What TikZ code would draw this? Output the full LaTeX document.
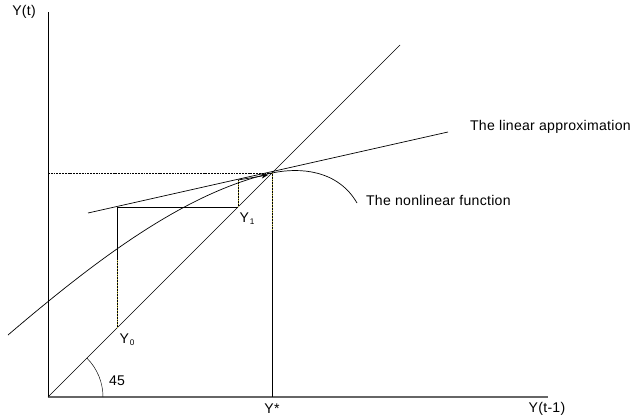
\documentclass[tikz,border=0pt]{standalone}
\usepackage{fontspec}
\setmainfont{Liberation Sans}[LetterSpace=2]
\usetikzlibrary{arrows.meta,positioning}
\newcommand{\ysub}[1]{Y\kern0.8pt\raisebox{-0.3ex}{\scriptsize #1}}

\begin{document}
\begin{tikzpicture}[x=0.03cm,y=-0.03cm,>=Stealth,
    every node/.style={font=\fontsize{12}{14}\selectfont},
    curve/.style={line width=0.6pt},
    guide/.style={line width=0.5pt,black,postaction={draw=yellow!70!black,dash pattern=on 0.8pt off 1.6pt}}]
    \useasboundingbox (0,0) rectangle (634,419);
    % axes
    \coordinate (O) at (48,397);
    \coordinate (ytop) at (48,12);
    \coordinate (xend) at (548,397);
    \draw[line width=0.6pt] (O) -- (ytop);
    \draw[line width=1pt,black!60] (O) -- (xend);
    \node (yt) at (24,12) {Y(t)};
    \node (yt1) at (547,409) {Y(t-1)};
    % 45 degree line and fixed point
    \coordinate (S) at (272,173);
    \coordinate (diagend) at (400,45);
    \draw[curve] (O) -- (diagend);
    \draw (O) ++(55,0) arc[start angle=0,end angle=-45,radius=55];
    \node (ang) at (117,381) {45};
    \draw[line width=0.6pt,dash pattern=on 1.6pt off 0.8pt] (48,173) -- (S);
    \draw[guide] (S) -- (272,230);
    \draw[line width=0.5pt] (272,230) -- (272,397);
    \node (ystar) at (272,409) {Y*};
    % linear approximation
    \coordinate (la) at (88,213);
    \coordinate (lb) at (448,132);
    \draw[curve] (la) -- (lb);
    \node[right] (lalabel) at (466,127) {The linear approximation};
    % nonlinear function
    \coordinate (fa) at (8,335);
    \coordinate (fb) at (357,203);
    \draw[curve] (fa) .. controls (96,260) and (184,193) .. (S)
                      .. controls (300,167) and (338,170) .. (fb);
    \node[right] (nllabel) at (362,200) {The nonlinear function};
    % iteration
    \coordinate (y0) at (117,328);
    \coordinate (p0) at (117,207);
    \coordinate (y1) at (238,207);
    \coordinate (p1) at (238,180);
    \draw[guide] (y0) -- (117,260);
    \draw[line width=0.5pt] (117,260) -- (p0);
    \draw[line width=0.6pt] (p0) -- (y1);
    \draw[guide] (y1) -- (p1);
    \draw[->,line width=0.6pt] (p1) -- (268,175);
    \node (y0label) at (127,340) {\ysub{0}};
    \node (y1label) at (247,219) {\ysub{1}};
  \end{tikzpicture}
\end{document}
